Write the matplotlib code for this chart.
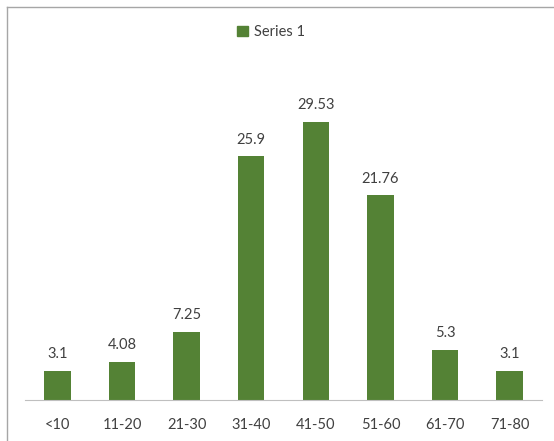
import matplotlib
matplotlib.use('Agg')
import matplotlib.pyplot as plt
from matplotlib.lines import Line2D
from matplotlib.patches import Patch

categories = ['<10', '11-20', '21-30', '31-40', '41-50', '51-60', '61-70', '71-80']
values = [3.1, 4.08, 7.25, 25.9, 29.53, 21.76, 5.3, 3.1]
value_labels = ['3.1', '4.08', '7.25', '25.9', '29.53', '21.76', '5.3', '3.1']
series_name = 'Series 1'

bar_color = '#548235'
text_color = '#404040'
plt.rcParams['font.family'] = ['Lato', 'DejaVu Sans']

W, H = 554, 441
fig = plt.figure(figsize=(W / 100, H / 100), dpi=100)

# outer chart border (only top/left visible in the crop)
fig.add_artist(Line2D([7 / W, 7 / W], [-0.1, 1 - 7 / H], transform=fig.transFigure, color='#a6a6a6', lw=1))
fig.add_artist(Line2D([7 / W, 1.1], [1 - 7 / H, 1 - 7 / H], transform=fig.transFigure, color='#a6a6a6', lw=1))

ax = fig.add_axes([25 / W, 41 / H, 517 / W, 340 / H])
x = range(len(categories))
ax.bar(x, values, width=0.41, color=bar_color)
for xi, v, lab in zip(x, values, value_labels):
    ax.annotate(lab, (xi, v), xytext=(0, 7), textcoords='offset points',
                ha='center', va='bottom', fontsize=10.5, color=text_color)

ax.set_xlim(-0.5, len(categories) - 0.5)
ax.set_ylim(0, 340 / 9.41)
ax.set_xticks(list(x))
ax.set_xticklabels(categories, fontsize=10.5, color=text_color)
ax.tick_params(axis='x', length=0, pad=13)
ax.set_yticks([])
for s in ['top', 'right', 'left']:
    ax.spines[s].set_visible(False)
ax.spines['bottom'].set_color('#bfbfbf')

fig.legend(handles=[Patch(color=bar_color, label=series_name)], loc='center',
           bbox_to_anchor=(271 / W, 1 - 32 / H), frameon=False, fontsize=10.5,
           handlelength=0.7, handleheight=0.7, handletextpad=0.4, labelcolor=text_color)

fig.savefig('out.png', dpi=100)
